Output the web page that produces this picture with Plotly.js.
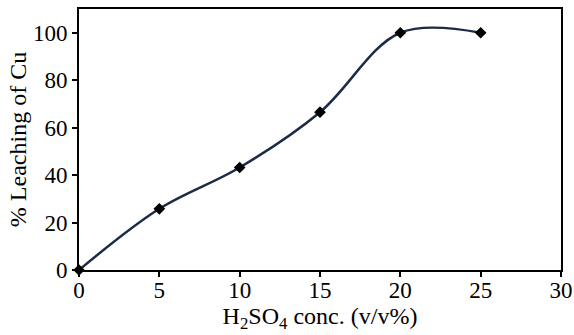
<!DOCTYPE html>
<html>
<head>
<meta charset="utf-8">
<script src="https://cdn.plot.ly/plotly-3.0.1.min.js"></script>
<style>html,body{margin:0;padding:0;background:#fff;}#chart{width:574px;height:335px;}</style>
</head>
<body>
<div id="chart"></div>
<script>
const concentration = [0, 5, 10, 15, 20, 25];
const leachingCu = [0, 25.8, 43.2, 66.5, 100, 100];
const xTicks = [0, 5, 10, 15, 20, 25, 30];
const yTicks = [0, 20, 40, 60, 80, 100];

const trace = {
  x: concentration,
  y: leachingCu,
  type: 'scatter',
  mode: 'lines+markers',
  line: {shape: 'spline', smoothing: 1, color: '#1b2a45', width: 2.5},
  marker: {symbol: 'diamond', size: 9, color: '#000000'},
  cliponaxis: false,
  hoverinfo: 'none'
};

const fam = 'Liberation Serif';
const tickFont = {family: fam, size: 23, color: '#000'};
const titleFont = {family: fam, size: 24, color: '#000'};

const layout = {
  width: 574, height: 335,
  margin: {l: 79, r: 13, t: 9, b: 65},
  paper_bgcolor: '#fff', plot_bgcolor: '#fff',
  showlegend: false,
  font: tickFont,
  xaxis: {
    range: [0, 30], tickvals: xTicks, ticktext: xTicks.map(String),
    ticks: 'outside', ticklen: 5, tickwidth: 2, tickcolor: '#000',
    ticklabelstandoff: -7,
    showline: true, linecolor: '#000', linewidth: 2, mirror: true,
    showgrid: false, zeroline: false, automargin: false,
    tickfont: tickFont,
    title: {text: 'H<sub>2</sub>SO<sub>4</sub> conc. (v/v%)', font: titleFont, standoff: 0}
  },
  yaxis: {
    range: [0, 110], tickvals: yTicks, ticktext: yTicks.map(String),
    ticks: 'outside', ticklen: 5, tickwidth: 2, tickcolor: '#000',
    showline: true, linecolor: '#000', linewidth: 2, mirror: true,
    showgrid: false, zeroline: false, automargin: false,
    tickfont: tickFont,
    title: {text: '% Leaching of Cu', font: titleFont, standoff: 0}
  }
};

Plotly.newPlot('chart', [trace], layout, {staticPlot: true, displayModeBar: false});
</script>
</body>
</html>
